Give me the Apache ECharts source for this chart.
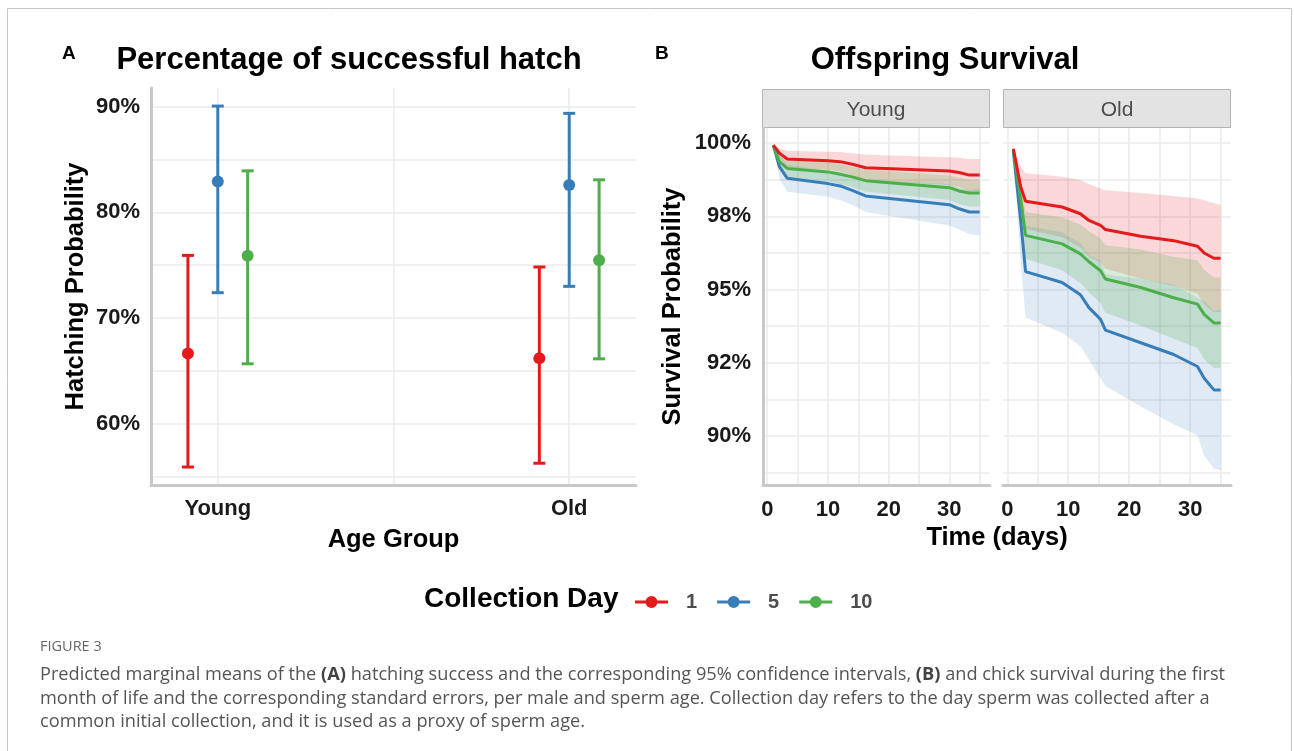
<!DOCTYPE html>
<html>
<head>
<meta charset="utf-8">
<script src="https://cdn.jsdelivr.net/npm/echarts@6/dist/echarts.min.js"></script>
<style>
html,body{margin:0;padding:0;background:#fff;}
#chart{width:1294px;height:751px;}
</style>
</head>
<body>
<div id="chart"></div>
<script>
// ---------- DATA ----------
const ageGroups = ['Young', 'Old'];
const collectionDays = ['1', '5', '10'];
const dayColors = ['#E41A1C', '#377EB8', '#4DAF4A'];
const bandColors = ['rgba(228,26,28,0.17)', 'rgba(55,126,184,0.16)', 'rgba(77,175,74,0.22)'];

// Panel A: hatching probability (%) per age group [Young, Old]
const hatchMeanDay1 = [66.65, 66.2];
const hatchLowDay1 = [55.9, 56.26];
const hatchHighDay1 = [75.93, 74.83];
const hatchMeanDay5 = [82.92, 82.58];
const hatchLowDay5 = [72.4, 73.0];
const hatchHighDay5 = [90.06, 89.37];
const hatchMeanDay10 = [75.9, 75.46];
const hatchLowDay10 = [65.67, 66.14];
const hatchHighDay10 = [83.93, 83.08];

const hatchYTicks = [60, 70, 80, 90];
const hatchYGrid = [55, 60, 65, 70, 75, 80, 85, 90];

// Panel B: survival probability (%) over time (days)
const timeYoung = [1, 2, 3.3, 10, 12, 14, 16.2, 30, 31.6, 33.3, 35];
const survYoungDay1 = [99.93, 99.66, 99.46, 99.40, 99.37, 99.28, 99.16, 99.05, 99.00, 98.91, 98.91];
const survYoungDay1Up = [99.95, 99.82, 99.74, 99.71, 99.70, 99.66, 99.61, 99.52, 99.50, 99.46, 99.46];
const survYoungDay1Lo = [99.91, 99.50, 99.18, 99.09, 99.04, 98.90, 98.71, 98.58, 98.50, 98.36, 98.36];
const survYoungDay5 = [99.93, 99.20, 98.80, 98.62, 98.54, 98.39, 98.20, 97.90, 97.76, 97.65, 97.65];
const survYoungDay5Up = [99.96, 99.60, 99.26, 99.07, 99.03, 98.88, 98.75, 98.61, 98.47, 98.40, 98.45];
const survYoungDay5Lo = [99.90, 98.80, 98.34, 98.17, 98.05, 97.90, 97.65, 97.19, 97.05, 96.90, 96.85];
const survYoungDay10 = [99.93, 99.37, 99.14, 99.02, 98.94, 98.85, 98.72, 98.48, 98.37, 98.30, 98.30];
const survYoungDay10Up = [99.95, 99.62, 99.44, 99.34, 99.28, 99.20, 99.10, 98.90, 98.82, 98.76, 98.76];
const survYoungDay10Lo = [99.91, 99.12, 98.84, 98.70, 98.60, 98.50, 98.34, 98.06, 97.92, 97.84, 97.84];

const timeOld = [1, 2.2, 3, 9, 12, 13.4, 15.3, 16.1, 21.9, 27.3, 31.2, 32.3, 33.9, 35];
const survOldDay1 = [99.81, 98.51, 98.02, 97.82, 97.59, 97.36, 97.19, 97.05, 96.82, 96.67, 96.48, 96.25, 96.07, 96.07];
const survOldDay1Up = [99.84, 99.20, 98.97, 98.85, 98.74, 98.60, 98.45, 98.39, 98.30, 98.20, 98.11, 98.05, 97.95, 97.90];
const survOldDay1Lo = [99.78, 97.80, 97.07, 96.79, 96.44, 96.12, 95.93, 95.71, 95.37, 95.12, 94.86, 94.50, 94.22, 94.24];
const survOldDay5 = [99.71, 97.36, 95.61, 95.24, 94.82, 94.38, 93.98, 93.61, 93.18, 92.78, 92.37, 91.97, 91.57, 91.57];
const survOldDay5Up = [99.74, 98.60, 97.18, 96.96, 96.58, 96.16, 95.98, 95.52, 95.36, 95.16, 94.72, 94.61, 94.26, 94.32];
const survOldDay5Lo = [99.68, 96.00, 94.04, 93.52, 93.06, 92.60, 91.97, 91.70, 91.00, 90.40, 90.02, 89.33, 88.88, 88.82];
const survOldDay10 = [99.77, 98.10, 96.85, 96.56, 96.22, 95.95, 95.64, 95.36, 95.07, 94.72, 94.50, 94.15, 93.86, 93.86];
const survOldDay10Up = [99.80, 98.70, 97.65, 97.46, 97.22, 97.00, 96.74, 96.51, 96.37, 96.12, 96.00, 95.68, 95.41, 95.41];
const survOldDay10Lo = [99.74, 97.40, 96.05, 95.66, 95.22, 94.90, 94.54, 94.21, 93.77, 93.32, 93.00, 92.62, 92.32, 92.32];

const survYTicks = [90, 92.5, 95, 97.5, 100];
const survYTickLabels = ['90%', '92%', '95%', '98%', '100%'];
const survYGrid = [88.75, 90, 91.25, 92.5, 93.75, 95, 96.25, 97.5, 98.75, 100];
const timeTicks = [0, 10, 20, 30];
const timeGrid = [0, 5, 10, 15, 20, 25, 30, 35];

// ---------- BUILD ----------
const hatch = [
  {mean: hatchMeanDay1, lo: hatchLowDay1, hi: hatchHighDay1},
  {mean: hatchMeanDay5, lo: hatchLowDay5, hi: hatchHighDay5},
  {mean: hatchMeanDay10, lo: hatchLowDay10, hi: hatchHighDay10}
];
const surv = {
  young: {t: timeYoung, s: [
    [survYoungDay1, survYoungDay1Lo, survYoungDay1Up],
    [survYoungDay5, survYoungDay5Lo, survYoungDay5Up],
    [survYoungDay10, survYoungDay10Lo, survYoungDay10Up]]},
  old: {t: timeOld, s: [
    [survOldDay1, survOldDay1Lo, survOldDay1Up],
    [survOldDay5, survOldDay5Lo, survOldDay5Up],
    [survOldDay10, survOldDay10Lo, survOldDay10Up]]}
};

const FONT = '"Liberation Sans", Arial, sans-serif';
const CAPFONT = '"Open Sans", "Noto Sans", sans-serif';
const dodge = 0.085;
const axisGray = '#c8c8c8';
const gridGray = '#ebebeb';

const series = [];

// Panel A: error bars + points
hatch.forEach((h, ci) => {
  const col = dayColors[ci];
  const xs = ageGroups.map((g, gi) => gi + 1 + (ci - 1) * dodge);
  series.push({
    type: 'custom', name: collectionDays[ci], xAxisIndex: 0, yAxisIndex: 0, silent: true,
    data: xs.map((x, gi) => [x, h.lo[gi], h.hi[gi]]),
    encode: {x: 0, y: [1, 2]},
    renderItem: function (params, api) {
      const x = api.value(0);
      const pLo = api.coord([x, api.value(1)]);
      const pHi = api.coord([x, api.value(2)]);
      const hw = 6;
      const st = {stroke: col, lineWidth: 3};
      return {type: 'group', children: [
        {type: 'line', shape: {x1: pLo[0], y1: pLo[1], x2: pHi[0], y2: pHi[1]}, style: st},
        {type: 'line', shape: {x1: pLo[0] - hw, y1: pLo[1], x2: pLo[0] + hw, y2: pLo[1]}, style: st},
        {type: 'line', shape: {x1: pHi[0] - hw, y1: pHi[1], x2: pHi[0] + hw, y2: pHi[1]}, style: st}
      ]};
    },
    z: 3
  });
  series.push({
    type: 'scatter', name: collectionDays[ci], xAxisIndex: 0, yAxisIndex: 0,
    symbol: 'circle', symbolSize: 12, itemStyle: {color: col, opacity: 1},
    data: xs.map((x, gi) => [x, h.mean[gi]]), z: 4
  });
});

// Panel B: bands (custom polygons) and lines
['young', 'old'].forEach((key, pi) => {
  const panel = surv[key];
  const axisIdx = pi + 1;
  panel.s.forEach((arr, ci) => {
    const lo = arr[1], up = arr[2];
    const fill = bandColors[ci];
    series.push({
      type: 'custom', name: 'band', xAxisIndex: axisIdx, yAxisIndex: axisIdx, silent: true,
      clip: true,
      data: panel.t.map((t, i) => [t, lo[i], up[i]]),
      encode: {x: 0, y: [1, 2]},
      renderItem: function (params, api) {
        if (params.dataIndex !== 0) return null;
        const pts = [];
        for (let i = 0; i < panel.t.length; i++) pts.push(api.coord([panel.t[i], up[i]]));
        for (let i = panel.t.length - 1; i >= 0; i--) pts.push(api.coord([panel.t[i], lo[i]]));
        return {type: 'polygon', shape: {points: pts}, style: {fill: fill, stroke: 'none'}};
      },
      z: 1
    });
  });
  [1, 2, 0].forEach(ci => {
    const m = panel.s[ci][0];
    series.push({
      type: 'line', name: collectionDays[ci], xAxisIndex: axisIdx, yAxisIndex: axisIdx,
      symbol: 'none', silent: true, lineStyle: {width: 3, color: dayColors[ci]},
      itemStyle: {color: dayColors[ci]},
      data: panel.t.map((t, i) => [t, m[i]]), z: 3
    });
  });
});

const tickLabelStyle = {color: '#1a1a1a', fontFamily: FONT, fontWeight: 'bold', fontSize: 22};
const axisNameStyle = {color: '#000', fontFamily: FONT, fontWeight: 'bold', fontSize: 25.5};

const option = {
  animation: false,
  backgroundColor: '#fff',
  grid: [
    {left: 151, top: 88, width: 485, height: 397},
    {left: 763, top: 128, width: 227, height: 357},
    {left: 1003, top: 128, width: 228, height: 357}
  ],
  xAxis: [
    {
      type: 'value', gridIndex: 0, min: 0.81, max: 2.19,
      axisLine: {show: true, onZero: false, lineStyle: {color: axisGray, width: 3}},
      axisTick: {show: false, customValues: [1, 1.5, 2]},
      axisLabel: {customValues: [1, 2], formatter: v => ageGroups[Math.round(v) - 1], margin: 13, ...tickLabelStyle},
      splitLine: {show: true, lineStyle: {color: gridGray, width: 1.6}},
      name: 'Age Group', nameLocation: 'middle', nameGap: 42, nameTextStyle: axisNameStyle
    },
    {
      type: 'value', gridIndex: 1, min: -0.7, max: 36.7,
      axisLine: {show: true, onZero: false, lineStyle: {color: axisGray, width: 3}},
      axisTick: {show: false, customValues: timeGrid},
      axisLabel: {customValues: timeTicks, margin: 14, ...tickLabelStyle},
      splitLine: {show: true, lineStyle: {color: gridGray, width: 1.6}}
    },
    {
      type: 'value', gridIndex: 2, min: -0.7, max: 36.7,
      axisLine: {show: true, onZero: false, lineStyle: {color: axisGray, width: 3}},
      axisTick: {show: false, customValues: timeGrid},
      axisLabel: {customValues: timeTicks, margin: 14, ...tickLabelStyle},
      splitLine: {show: true, lineStyle: {color: gridGray, width: 1.6}}
    }
  ],
  yAxis: [
    {
      type: 'value', gridIndex: 0, min: 54.2, max: 91.77,
      axisLine: {show: true, onZero: false, lineStyle: {color: axisGray, width: 3}},
      axisTick: {show: false, customValues: hatchYGrid},
      axisLabel: {customValues: hatchYTicks, formatter: v => v + '%', margin: 11, padding: [4, 0, 0, 0], ...tickLabelStyle},
      splitLine: {show: true, lineStyle: {color: gridGray, width: 1.6}},
      name: 'Hatching Probability', nameLocation: 'middle', nameRotate: 90, nameGap: 62, nameTextStyle: axisNameStyle
    },
    {
      type: 'value', gridIndex: 1, min: 88.32, max: 100.52,
      axisLine: {show: true, onZero: false, lineStyle: {color: axisGray, width: 3}},
      axisTick: {show: false, customValues: survYGrid},
      axisLabel: {customValues: survYTicks, formatter: v => survYTickLabels[survYTicks.indexOf(v)], margin: 12, padding: [5, 0, 0, 0], ...tickLabelStyle},
      splitLine: {show: true, lineStyle: {color: gridGray, width: 1.6}},
      name: 'Survival Probability', nameLocation: 'middle', nameRotate: 90, nameGap: 77, nameTextStyle: axisNameStyle
    },
    {
      type: 'value', gridIndex: 2, min: 88.32, max: 100.52,
      axisLine: {show: false},
      axisTick: {show: false, customValues: survYGrid},
      axisLabel: {show: false},
      splitLine: {show: true, lineStyle: {color: gridGray, width: 1.6}}
    }
  ],
  legend: {
    left: 630, top: 587, orient: 'horizontal', selectedMode: false,
    itemWidth: 33, itemHeight: 12, itemGap: 20,
    icon: 'path://M0,4.5 L33,4.5 L33,7.5 L0,7.5 Z M16.5,0 A6,6 0 1,1 16.5,12 A6,6 0 1,1 16.5,0 Z',
    data: collectionDays.map((d, i) => ({name: d, itemStyle: {color: dayColors[i]}})),
    textStyle: {color: '#4d4d4d', fontFamily: FONT, fontWeight: 'bold', fontSize: 20, padding: [0, 0, 0, 13]}
  },
  graphic: [
    {type: 'rect', shape: {x: 7.5, y: 8.5, width: 1284, height: 780}, style: {fill: 'none', stroke: '#c4c4c4', lineWidth: 1}, silent: true},
    {type: 'text', left: 62, top: 44, style: {text: 'A', font: 'bold 19px ' + FONT, fill: '#000'}},
    {type: 'text', left: 655, top: 44, style: {text: 'B', font: 'bold 19px ' + FONT, fill: '#000'}},
    {type: 'text', x: 349, y: 60, style: {text: 'Percentage of successful hatch', font: 'bold 31px ' + FONT, fill: '#000', align: 'center', verticalAlign: 'middle'}},
    {type: 'text', x: 945, y: 60, style: {text: 'Offspring Survival', font: 'bold 31px ' + FONT, fill: '#000', align: 'center', verticalAlign: 'middle'}},
    {type: 'rect', shape: {x: 762.5, y: 89.5, width: 227, height: 38}, style: {fill: '#e3e3e3', stroke: '#b5b5b5', lineWidth: 1}, silent: true},
    {type: 'rect', shape: {x: 1003.5, y: 89.5, width: 227, height: 38}, style: {fill: '#e3e3e3', stroke: '#b5b5b5', lineWidth: 1}, silent: true},
    {type: 'text', x: 876, y: 110, style: {text: 'Young', font: '21px ' + FONT, fill: '#4d4d4d', align: 'center', verticalAlign: 'middle'}},
    {type: 'text', x: 1117, y: 110, style: {text: 'Old', font: '21px ' + FONT, fill: '#4d4d4d', align: 'center', verticalAlign: 'middle'}},
    {type: 'text', x: 997, y: 538, style: {text: 'Time (days)', font: 'bold 25.5px ' + FONT, fill: '#000', align: 'center', verticalAlign: 'middle'}},
    {type: 'text', x: 424, y: 599, style: {text: 'Collection Day', font: 'bold 28px ' + FONT, fill: '#000', align: 'left', verticalAlign: 'middle'}},
    {type: 'text', x: 40, y: 647, style: {text: 'FIGURE 3', font: '14.5px ' + CAPFONT, fill: '#666', align: 'left', verticalAlign: 'middle'}},
    {type: 'text', x: 40, y: 675, style: {
      text: 'Predicted marginal means of the {b|(A)} hatching success and the corresponding 95% confidence intervals, {b|(B)} and chick survival during the first',
      font: '18.2px ' + CAPFONT, fill: '#555', align: 'left', verticalAlign: 'middle',
      rich: {b: {fontWeight: 'bold', fontSize: 18.2, fontFamily: CAPFONT, fill: '#444'}}}},
    {type: 'text', x: 40, y: 699, style: {
      text: 'month of life and the corresponding standard errors, per male and sperm age. Collection day refers to the day sperm was collected after a',
      font: '18.2px ' + CAPFONT, fill: '#555', align: 'left', verticalAlign: 'middle'}},
    {type: 'text', x: 40, y: 722, style: {
      text: 'common initial collection, and it is used as a proxy of sperm age.',
      font: '18.2px ' + CAPFONT, fill: '#555', align: 'left', verticalAlign: 'middle'}}
  ],
  series: series
};

const chart = echarts.init(document.getElementById('chart'), null, {renderer: 'canvas'});
chart.setOption(option);
</script>
</body>
</html>
